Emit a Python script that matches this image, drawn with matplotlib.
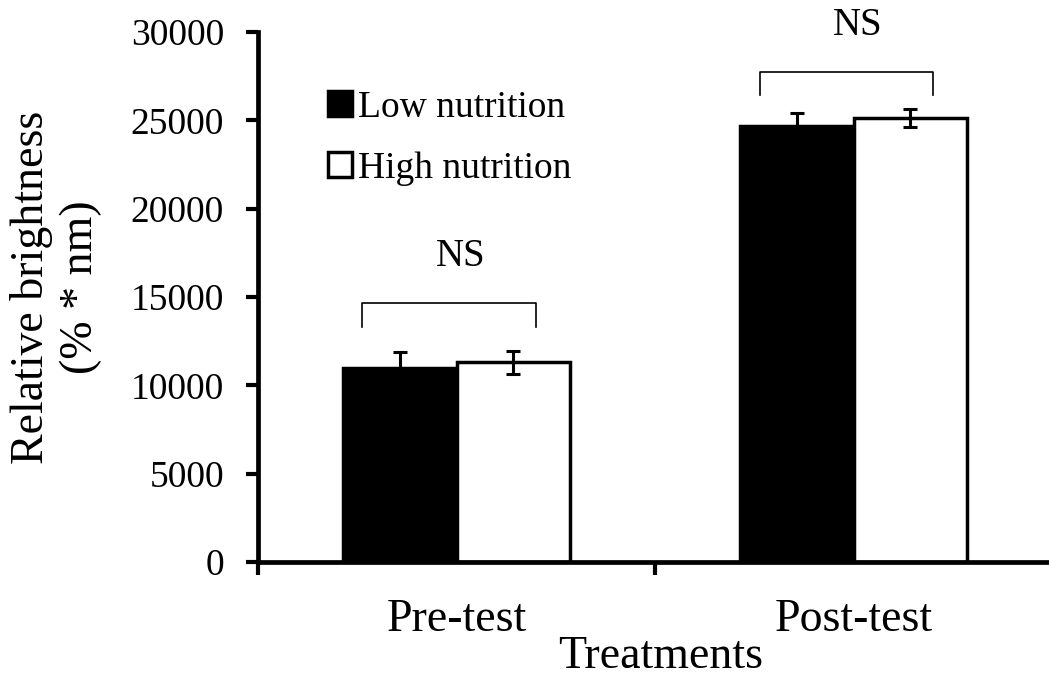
import matplotlib
matplotlib.use('Agg')
import matplotlib.pyplot as plt
import numpy as np

plt.rcParams['font.family'] = ['Liberation Serif', 'DejaVu Serif']

# Werte (Mittelwert und Fehler) je Behandlung
behandlungen = ['Pre-test', 'Post-test']
niedrig = [11000, 24700]
niedrig_fehler = [900, 700]
hoch = [11300, 25150]
hoch_fehler = [650, 500]
serien = ['Low nutrition', 'High nutrition']

fig = plt.figure(figsize=(10.49, 6.79), dpi=100)
ax = fig.add_axes([0.246, 0.1723, 0.757, 0.7806])

x = np.arange(len(behandlungen))
breite = 0.285

ax.bar(x - breite/2, niedrig, breite, color='black', edgecolor='black', linewidth=2.5, label=serien[0], zorder=2)
ax.bar(x + breite/2, hoch, breite, color='white', edgecolor='black', linewidth=2.5, label=serien[1], zorder=2)
ax.errorbar(x - breite/2, niedrig, yerr=niedrig_fehler, fmt='none', ecolor='black', elinewidth=2.2, capsize=5, capthick=2.2, zorder=3)
ax.errorbar(x + breite/2, hoch, yerr=hoch_fehler, fmt='none', ecolor='black', elinewidth=2.2, capsize=5, capthick=2.2, zorder=3)

# Klammern mit "NS" über jeder Gruppe
for xi, yo, yu, yt in zip(x, [14660, 27730], [13300, 26430], [17300, 30350]):
    ax.plot([xi - 0.237, xi - 0.237, xi + 0.2, xi + 0.2], [yu, yo, yo, yu], color='black', lw=1.2, clip_on=False)
    ax.text(xi + 0.01, yt, 'NS', ha='center', va='center', fontsize=28, clip_on=False)

ax.set_xlim(-0.5, 1.5)
ax.set_ylim(0, 30000)
ax.set_yticks(np.arange(0, 30001, 5000))
ax.set_xticks([-0.5, 0.5, 1.5])
ax.set_xticklabels([])
ax.set_xticks(x, minor=True)
ax.set_xticklabels(behandlungen, minor=True, fontsize=33)
ax.tick_params(axis='x', which='minor', length=0, pad=26)
ax.tick_params(axis='x', which='major', length=9, width=3, direction='out')
ax.tick_params(axis='y', length=9, width=3, direction='out', labelsize=27, pad=15.5)

for s in ['top', 'right']:
    ax.spines[s].set_visible(False)
for s in ['left', 'bottom']:
    ax.spines[s].set_linewidth(3.4)

fig.text(661/1049, 1/679, 'Treatments', ha='center', va='bottom', fontsize=33)
fig.text(56/1049, 1 - 287/679, 'Relative brightness\n(% * nm)', ha='center', va='center',
         rotation=90, fontsize=33, linespacing=1.2, multialignment='center')

ax.legend(loc='upper left', bbox_to_anchor=(0.088, 0.89), frameon=False, fontsize=27,
          handlelength=0.64, handleheight=0.64, handletextpad=0.16, labelspacing=0.71,
          borderpad=0, borderaxespad=0)

fig.savefig('out.png', dpi=100)
